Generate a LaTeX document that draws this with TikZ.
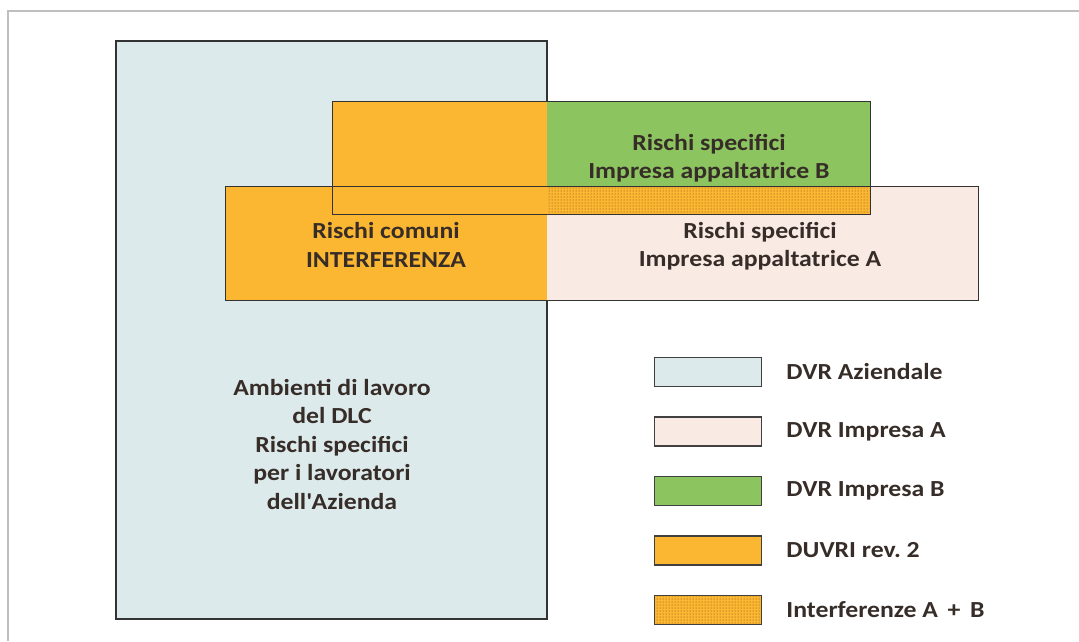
\documentclass[tikz,border=0pt]{standalone}
\usepackage{fontspec}
\setmainfont[FakeStretch=1.12]{Carlito}
\usetikzlibrary{patterns,positioning}
\definecolor{azienda}{RGB}{221,234,235}
\definecolor{impresaA}{RGB}{249,234,228}
\definecolor{impresaB}{RGB}{140,196,96}
\definecolor{duvri}{RGB}{251,182,50}
\definecolor{testo}{RGB}{55,45,40}
\definecolor{punti}{RGB}{110,70,20}
\tikzset{
    lab/.style={font=\bfseries\fontsize{23}{28.5}\selectfont, text=testo, align=center},
    legtext/.style={font=\bfseries\fontsize{23}{25}\selectfont, text=testo, inner sep=0pt},
    swatch/.style={draw=black!75, line width=1.5pt, minimum width=107pt, minimum height=29pt, inner sep=0pt},
    dotfill/.style={pattern=dots, pattern color=punti}
}

\begin{document}
\begin{tikzpicture}[x=1pt,y=-1pt]
\useasboundingbox (0,0) rectangle (1079,641);
\draw[black!25, line width=2pt] (8,641) -- (8,11) -- (1079,11);
	\begin{scope}
	\filldraw[fill=azienda, draw=black!80, line width=2.5pt] (116,41) rectangle (547,619);
	% impresa A
	\fill[duvri] (225,186) rectangle (547,300);
	\fill[impresaA] (547,186) rectangle (978,300);
	% impresa B
	\fill[duvri] (332,101) rectangle (547,214);
	\fill[impresaB] (547,101) rectangle (870,186);
	\fill[duvri] (547,186) rectangle (870,214);
	\fill[dotfill] (547,186) rectangle (870,214);
	\draw[black!80, line width=1pt] (225,186) rectangle (978,300);
	\draw[black!80, line width=1pt] (332,101) rectangle (870,214);
    \end{scope}
\node[lab] (comuni) at (386,245) {Rischi comuni\\INTERFERENZA};
\node[lab] (specB) at (709,158) {Rischi specifici\\Impresa appaltatrice B};
\node[lab] (specA) at (760,246) {Rischi specifici\\Impresa appaltatrice A};
\node[lab] (ambienti) at (332,444) {Ambienti di lavoro\\del DLC\\Rischi specifici\\per i lavoratori\\dell\textquotesingle Azienda};
% legenda
\node[swatch, fill=azienda] (azi) at (708,372) {};
\node[swatch, fill=impresaA, below=29pt of azi] (impA) {};
\node[swatch, fill=impresaB, below=29pt of impA] (impB) {};
\node[swatch, fill=duvri, below=29pt of impB] (duv) {};
\node[swatch, fill=duvri, postaction={dotfill}, below=29pt of duv] (interf) {};
\node[legtext, right=24pt of azi] (tazi) {DVR Aziendale};
\node[legtext, right=24pt of impA] (timpA) {DVR Impresa A};
\node[legtext, right=24pt of impB] (timpB) {DVR Impresa B};
\node[legtext, right=24pt of duv] (tduv) {DUVRI rev.\ 2};
\node[legtext, right=24pt of interf] (tinterf) {Interferenze A \,+\, B};
\end{tikzpicture}
\end{document}
